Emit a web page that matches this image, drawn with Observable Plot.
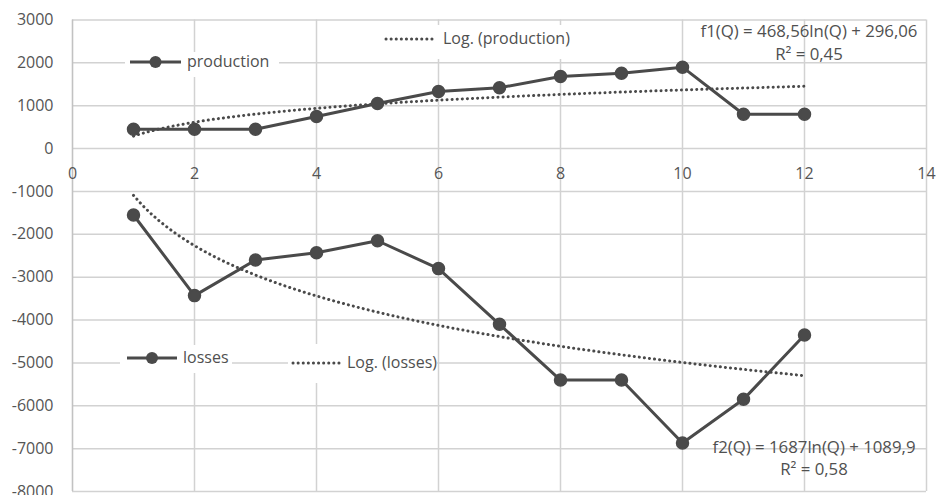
<!DOCTYPE html>
<html>
<head>
<meta charset="utf-8">
<script src="https://cdn.jsdelivr.net/npm/d3@7"></script>
<script src="https://cdn.jsdelivr.net/npm/@observablehq/plot@0.6"></script>
<style>
  html, body { margin: 0; padding: 0; background: #fff; }
  #chart { position: relative; width: 937px; height: 495px; overflow: hidden; }
</style>
</head>
<body>
<div id="chart"></div>
<script>
// ---- Data ----
const Q = [1, 2, 3, 4, 5, 6, 7, 8, 9, 10, 11, 12];
const production = [450, 450, 450, 750, 1050, 1330, 1420, 1680, 1760, 1900, 800, 800];
const losses = [-1550, -3430, -2600, -2430, -2150, -2800, -4100, -5400, -5400, -6870, -5850, -4350];
const xTicks = [0, 2, 4, 6, 8, 10, 12, 14];
const yTicks = [3000, 2000, 1000, 0, -1000, -2000, -3000, -4000, -5000, -6000, -7000, -8000];
const eq1 = ["f1(Q) = 468,56ln(Q) + 296,06", "R\u00B2 = 0,45"];
const eq2 = ["f2(Q) = 1687ln(Q) + 1089,9", "R\u00B2 = 0,58"];
const seriesNames = ["production", "losses"];
const trendNames = ["Log. (production)", "Log. (losses)"];

// ---- Logarithmic least-squares fit (as the spreadsheet trendline does) ----
function logFit(xs, ys) {
  const L = xs.map(Math.log);
  const mL = d3.mean(L), mY = d3.mean(ys);
  let sxy = 0, sxx = 0;
  L.forEach((l, i) => { sxy += (l - mL) * (ys[i] - mY); sxx += (l - mL) ** 2; });
  const a = sxy / sxx, b = mY - a * mL;
  return x => a * Math.log(x) + b;
}
const fProd = logFit(Q, production);
const fLoss = logFit(Q, losses);
const qFine = d3.range(Q[0], Q[Q.length - 1] + 1e-9, 0.1);
const trendProd = qFine.map(q => ({q, v: fProd(q)}));
const trendLoss = qFine.map(q => ({q, v: fLoss(q)}));

const prodData = Q.map((q, i) => ({q, v: production[i]}));
const lossData = Q.map((q, i) => ({q, v: losses[i]}));

const INK = "#4a4a4a";
const TXT = "#555555";
const GRID = "#d2d2d2";

const plot = Plot.plot({
  width: 937,
  height: 495,
  marginLeft: 72,
  marginRight: 11,
  marginTop: 19.5,
  marginBottom: 4,
  style: {fontFamily: "'Open Sans', sans-serif", fontSize: "16px", color: TXT, background: "#fff", overflow: "visible"},
  x: {domain: [0, 14], axis: null},
  y: {domain: [-8000, 3000], axis: null},
  marks: [
    Plot.gridY(yTicks, {stroke: GRID, strokeOpacity: 1, strokeWidth: 1.5}),
    Plot.gridX(xTicks.filter(d => d > 0), {stroke: GRID, strokeOpacity: 1, strokeWidth: 1.5}),
    Plot.ruleX([0], {stroke: "#c2c2c2", strokeWidth: 1.6}),
    Plot.axisY(yTicks, {tickSize: 0, tickPadding: 19, fill: TXT, fontSize: 16, label: null, tickFormat: d => String(d).replace("\u2212", "-")}),
    Plot.text(xTicks, {x: d => d, y: () => 0, dy: 25, text: d => String(d), fill: TXT, fontSize: 16}),
    Plot.line(trendProd, {x: "q", y: "v", stroke: INK, strokeWidth: 3, strokeDasharray: "0.1,5", strokeLinecap: "round"}),
    Plot.line(trendLoss, {x: "q", y: "v", stroke: INK, strokeWidth: 3, strokeDasharray: "0.1,5", strokeLinecap: "round"}),
    Plot.line(prodData, {x: "q", y: "v", stroke: INK, strokeWidth: 3}),
    Plot.dot(prodData, {x: "q", y: "v", r: 6, fill: INK, stroke: INK}),
    Plot.line(lossData, {x: "q", y: "v", stroke: INK, strokeWidth: 3}),
    Plot.dot(lossData, {x: "q", y: "v", r: 6, fill: INK, stroke: INK})
  ]
});
document.getElementById("chart").appendChild(plot);

// ---- Legends and trendline labels (overlay inside the plot area) ----
const svg = d3.select(plot);
const g = svg.append("g")
  .attr("font-family", "'Open Sans', sans-serif")
  .attr("font-size", 16)
  .attr("fill", "#505050")
  .attr("text-anchor", "start");

function box(x0, y0, x1, y1) {
  g.append("rect").attr("x", x0).attr("y", y0).attr("width", x1 - x0).attr("height", y1 - y0).attr("fill", "#fff");
}
function solidKey(x0, x1, y, label) {
  g.append("line").attr("x1", x0).attr("x2", x1).attr("y1", y).attr("y2", y).attr("stroke", INK).attr("stroke-width", 3);
  g.append("circle").attr("cx", (x0 + x1) / 2).attr("cy", y).attr("r", 6).attr("fill", INK);
  g.append("text").attr("x", x1 + 6).attr("y", y).attr("dy", "0.3em").attr("text-anchor", "start").text(label);
}
function dottedKey(x0, x1, y, label) {
  g.append("line").attr("x1", x0).attr("x2", x1).attr("y1", y).attr("y2", y).attr("stroke", INK)
    .attr("stroke-width", 3).attr("stroke-dasharray", "0.1,5").attr("stroke-linecap", "round");
  g.append("text").attr("x", x1 + 7).attr("y", y).attr("dy", "0.3em").attr("text-anchor", "start").text(label);
}

box(125, 52, 279, 77);
solidKey(130, 181, 62, seriesNames[0]);
box(379, 25, 576, 59);
dottedKey(386, 436, 39, trendNames[0]);
box(120, 345, 232, 373);
solidKey(127, 177, 358, seriesNames[1]);
box(288, 344, 437, 383);
dottedKey(293, 340, 363, trendNames[1]);

function eqLabel(cx, y1, y2, lines) {
  g.append("text").attr("x", cx).attr("y", y1).attr("dy", "0.35em").attr("text-anchor", "middle").attr("font-size", 16.8).text(lines[0]);
  g.append("text").attr("x", cx).attr("y", y2).attr("dy", "0.35em").attr("text-anchor", "middle").attr("font-size", 16.8).text(lines[1]);
}
eqLabel(809, 31, 54, eq1);
eqLabel(814, 447, 469, eq2);
</script>
</body>
</html>
